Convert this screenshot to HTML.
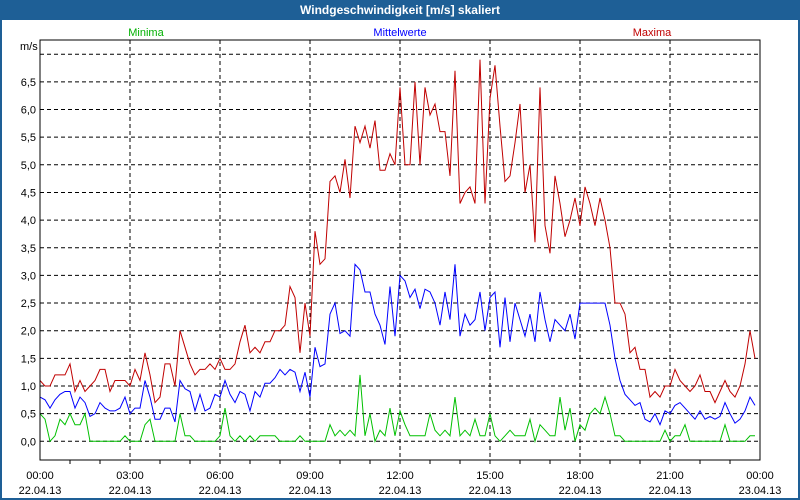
<!DOCTYPE html>
<html><head><meta charset="utf-8"><style>
body{margin:0;width:800px;height:500px;overflow:hidden;background:#fff;font-family:"Liberation Sans",sans-serif}
svg{display:block}
</style></head><body>
<svg id="chart" width="800" height="500">
<rect x="0" y="0" width="800" height="500" fill="#1e5f96"/>
<rect x="2" y="20" width="796" height="478" fill="#ffffff"/>
<text x="400" y="14" fill="#fff" font-size="12" font-weight="bold" text-anchor="middle">Windgeschwindigkeit [m/s] skaliert</text>
<text x="146" y="36" fill="#00b000" font-size="11" text-anchor="middle">Minima</text>
<text x="400" y="36" fill="#0000ff" font-size="11" text-anchor="middle">Mittelwerte</text>
<text x="652" y="36" fill="#c00000" font-size="11" text-anchor="middle">Maxima</text>
<text x="20" y="50" fill="#000" font-size="11">m/s</text>
<g id="grid"></g>
<g id="series"></g>
<rect x="40" y="40" width="720" height="420" fill="none" stroke="#000" stroke-width="1"/>
</svg>
<script>
const xLabels=["00:00","03:00","06:00","09:00","12:00","15:00","18:00","21:00","00:00"];
const dateLabels=["22.04.13","22.04.13","22.04.13","22.04.13","22.04.13","22.04.13","22.04.13","22.04.13","23.04.13"];
const yTicks=[0,0.5,1,1.5,2,2.5,3,3.5,4,4.5,5,5.5,6,6.5,7];
const maxima=[1.1,1.0,1.0,1.2,1.2,1.2,1.4,0.9,1.1,0.9,1.0,1.1,1.3,1.3,0.9,1.1,1.1,1.1,1.0,1.3,1.1,1.6,1.2,0.7,0.8,1.4,1.4,1.0,2.0,1.7,1.4,1.2,1.3,1.3,1.4,1.3,1.5,1.3,1.3,1.4,1.8,2.1,1.6,1.7,1.6,1.8,1.8,2.0,2.0,2.1,2.8,2.6,1.6,2.5,1.9,3.8,3.2,3.3,4.7,4.8,4.5,5.1,4.4,5.7,5.4,5.7,5.3,5.8,4.9,4.9,5.2,5.0,6.4,5.0,5.0,6.5,5.0,6.4,5.9,6.1,5.6,5.6,4.8,6.7,4.3,4.5,4.6,4.3,6.9,4.3,6.2,6.8,5.7,4.7,4.8,5.4,6.1,4.5,5.0,3.6,6.4,3.9,3.4,4.8,4.3,3.7,4.0,4.4,3.9,4.6,4.3,3.9,4.4,4.0,3.5,2.5,2.5,2.3,1.6,1.7,1.3,1.3,0.8,0.9,0.8,1.0,1.0,1.3,1.1,1.0,0.9,1.0,1.2,0.9,0.9,0.7,0.9,1.1,0.9,0.8,1.0,1.4,2.0,1.5];
const mittel=[0.8,0.75,0.6,0.75,0.85,0.9,0.9,0.6,0.8,0.7,0.45,0.5,0.7,0.6,0.55,0.55,0.6,0.8,0.5,0.6,0.6,1.1,0.8,0.4,0.4,0.6,0.6,0.35,1.1,0.95,0.9,0.55,0.85,0.55,0.6,0.85,0.8,1.1,0.85,0.7,0.9,0.85,0.55,0.9,0.8,1.05,1.05,1.15,1.3,1.2,1.3,1.25,0.9,1.25,0.8,1.7,1.35,1.4,2.3,2.5,1.95,2.0,1.9,3.2,3.1,2.7,2.7,2.3,2.1,1.75,2.8,1.9,3.0,2.9,2.6,2.75,2.4,2.75,2.7,2.5,2.1,2.7,2.2,3.2,1.9,2.3,2.1,2.2,2.7,2.0,2.6,2.7,1.7,2.6,1.8,2.5,2.2,1.9,2.3,1.8,2.7,2.2,1.8,2.2,2.1,2.0,2.3,1.85,2.5,2.5,2.5,2.5,2.5,2.5,2.1,1.5,1.1,0.85,0.75,0.65,0.7,0.4,0.35,0.5,0.3,0.55,0.5,0.65,0.7,0.6,0.5,0.4,0.55,0.4,0.45,0.4,0.45,0.7,0.5,0.33,0.4,0.55,0.8,0.65];
const minima=[0.5,0.4,0,0.1,0.4,0.3,0.5,0.3,0.3,0.5,0,0,0,0,0,0,0,0.1,0,0,0,0.3,0.4,0,0,0,0,0,0.5,0.1,0.1,0,0,0,0,0,0.1,0.6,0.1,0,0.1,0,0.1,0,0.1,0.1,0.1,0.1,0,0,0,0,0.1,0,0,0,0,0,0.3,0.1,0.2,0.1,0.2,0.1,1.2,0.1,0.5,0,0.2,0.1,0.6,0.1,0.55,0.3,0.1,0.1,0.1,0.1,0.5,0.2,0.1,0.2,0.1,0.8,0.1,0.2,0.1,0.4,0.1,0.1,0.5,0.1,0,0.1,0.2,0.1,0.1,0.1,0.4,0,0.3,0.2,0.1,0.1,0.8,0.2,0.6,0,0.3,0.2,0.5,0.6,0.5,0.8,0.5,0.1,0.1,0,0,0,0,0,0,0,0,0.2,0,0.1,0.1,0.3,0,0,0,0,0,0,0,0.3,0,0,0,0,0.1,0.1];
const NS="http://www.w3.org/2000/svg";
const X0=40,X1=760,Y0=441.3,PXU=55.3,STEP=5;
const xIdx=i=>X0+i*STEP;
const xTick=k=>X0+k*(X1-X0)/(xLabels.length-1);
const yv=v=>Y0-v*PXU;
const grid=document.getElementById('grid'),ser=document.getElementById('series');
function mk(tag,parent,attrs){const e=document.createElementNS(NS,tag);for(const k in attrs)e.setAttribute(k,attrs[k]);parent.appendChild(e);return e;}
yTicks.forEach(v=>{
  const l=mk('line',grid,{x1:X0,x2:X1,y1:yv(v),y2:yv(v),stroke:'#000','stroke-dasharray':'4,3','stroke-width':1});
  
  
  if(v<7){
    const t=mk('text',grid,{x:36,y:yv(v)+4,'font-size':11,'text-anchor':'end',fill:'#000'});
    t.textContent=v.toFixed(1).replace('.',',');
    
    
  }
});
for(let h=1;h<24;h++){
  const x=X0+h*30;
  const tk=mk('line',grid,{x1:x,x2:x,y1:460,y2:464,stroke:'#000'});
  
  
}
xLabels.forEach((lab,k)=>{
  const x=xTick(k);
  if(k>0&&k<xLabels.length-1){
    const g=mk('line',grid,{x1:x,x2:x,y1:40,y2:460,stroke:'#000','stroke-dasharray':'4,3'});
    
    
  }
  const t=mk('text',grid,{x:x,y:479,'font-size':11,'text-anchor':'middle',fill:'#000'});
  t.textContent=lab;
  
  
  const d=mk('text',grid,{x:x,y:494,'font-size':11,'text-anchor':'middle',fill:'#000'});
  d.textContent=dateLabels[k];
  
  
});
function line(arr,color,name){
  const p=mk('polyline',ser,{points:arr.map((v,i)=>xIdx(i)+','+yv(v).toFixed(1)).join(' '),fill:'none',stroke:color,'stroke-width':1});
  
  
}
line(maxima,'#c00000','maxima-line');
line(mittel,'#0000ff','mittelwerte-line');
line(minima,'#00c000','minima-line');
</script>
</body></html>
